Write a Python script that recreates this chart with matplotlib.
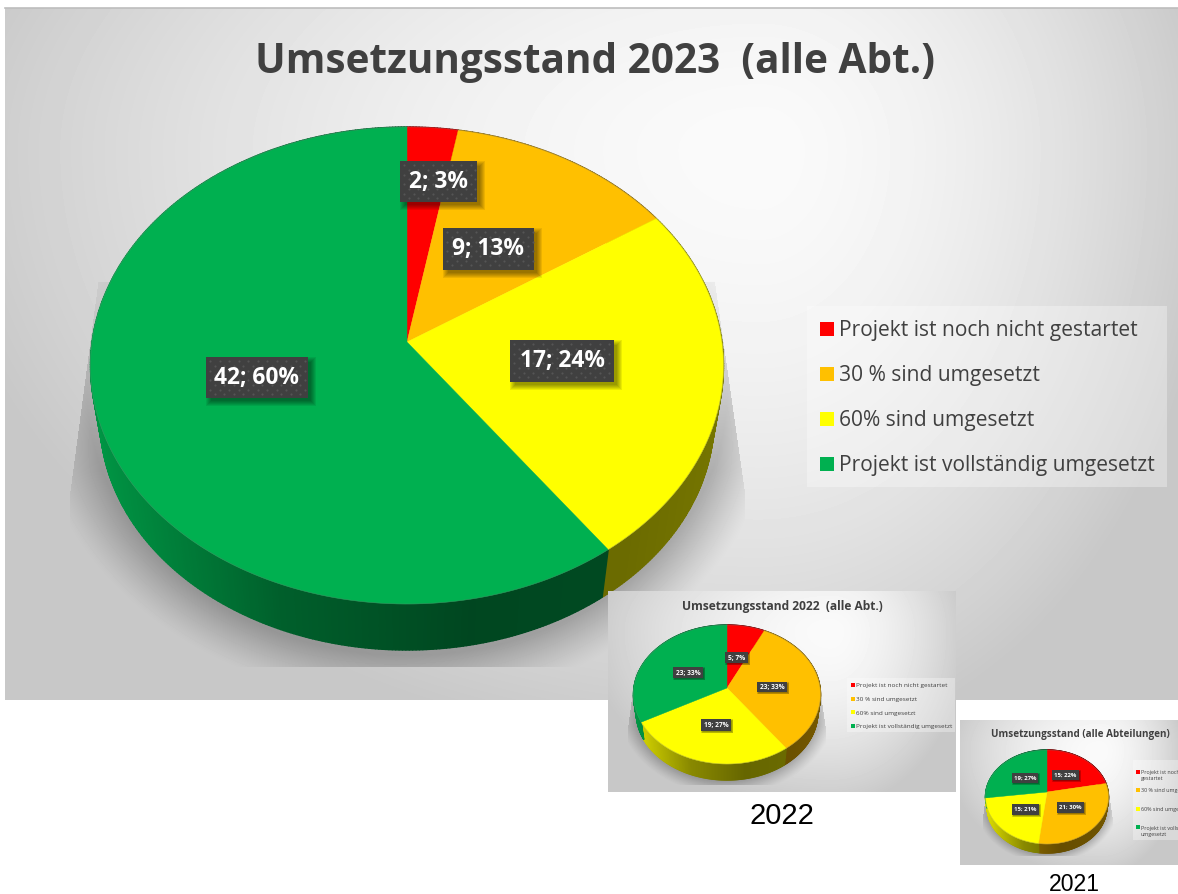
import numpy as np
import matplotlib
matplotlib.use("Agg")
import matplotlib.pyplot as plt
from matplotlib.patches import Rectangle, Polygon
from matplotlib.collections import PolyCollection

# ---------- data ----------
categories = ["Projekt ist noch nicht gestartet", "30 % sind umgesetzt",
              "60% sind umgesetzt", "Projekt ist vollständig umgesetzt"]
categories_2021 = ["Projekt ist noch nicht\ngestartet", "30 % sind umgesetzt",
                   "60% sind umgesetzt", "Projekt ist vollständig\numgesetzt"]
counts_2023 = [2, 9, 17, 42]
percent_2023 = [3, 13, 24, 60]
counts_2022 = [5, 23, 19, 23]
percent_2022 = [7, 33, 27, 33]
counts_2021 = [15, 21, 15, 19]
percent_2021 = [22, 30, 21, 27]
title_2023 = "Umsetzungsstand 2023  (alle Abt.)"
title_2022 = "Umsetzungsstand 2022  (alle Abt.)"
title_2021 = "Umsetzungsstand (alle Abteilungen)"
caption_2022 = "2022"
caption_2021 = "2021"

# ---------- style ----------
colors = ["#FF0000", "#FFC000", "#FFFF00", "#00B050"]
TXT = "#404040"
FONT = "Open Sans"

fig = plt.figure(figsize=(11.78, 8.94), dpi=100, facecolor="white")
ax = fig.add_axes([0, 0, 1, 1])
ax.set_axis_off()
W, H = 1178, 894


def fit_text(x, y, s, width, **kw):
    t = ax.text(x, y, s, **kw)
    r = fig.canvas.get_renderer()
    w = t.get_window_extent(r).width
    t.set_fontsize(t.get_fontsize() * width / w)
    return t


def panel(cfg):
    z = cfg["z"]
    x0, y0, x1, y1 = cfg["rect"]
    cx0, cy0 = cfg["glow"]
    px, py = cfg["apex"]
    top, bottom, left, right, wall = cfg["top"], cfg["bottom"], cfg["left"], cfg["right"], cfg["wall"]
    sc = (right - left) / 633.0

    # background
    yy, xx = np.mgrid[y0:y1:complex(0, max(int(y1 - y0), 2)), x0:x1:complex(0, max(int(x1 - x0), 2))]
    u = np.where(xx < cx0, (cx0 - xx) / (cx0 - x0), (xx - cx0) / (x1 - cx0))
    v = np.where(yy < cy0, (cy0 - yy) / (cy0 - y0) * 0.35, (yy - cy0) / (y1 - cy0))
    r = np.sqrt(u ** 2 + v ** 2)
    val = (250 - 43 * np.minimum(r, 1.1) ** 1.7) / 255.0

    # soft shadow below the pie
    ecy = (top + wall) / 2 + 2 * sc
    ery = (wall - top) / 2 + 4 * sc
    erx = (right - left) / 2 + 4 * sc
    d = (np.sqrt(((xx - px) / erx) ** 2 + ((yy - ecy) / ery) ** 2) - 1) * 290 * sc
    fade = np.clip((yy - (py - 40 * sc)) / (170 * sc), 0, 1)
    a = 0.25 * np.clip(1 - d / (50 * sc), 0, 1) ** 1.2 * (0.25 + 0.75 * fade)
    t = np.clip((yy - (py - 60 * sc)) / (210 * sc), 0, 1)
    a = np.where(xx < left + 8 * sc - 28 * sc * t, 0, a)
    a = np.where(xx > right - 8 * sc + 30 * sc * t, 0, a)
    a = np.where(yy > wall + 17 * sc, 0, a)
    a = np.where(yy < py - 60 * sc, 0, a)
    val = val * (1 - a)
    ax.imshow(val, cmap="gray", vmin=0, vmax=1, extent=(x0, x1, y1, y0), origin="upper",
              aspect="auto", zorder=z, interpolation="bilinear")
    if cfg.get("border"):
        ax.plot([x0, x1], [y0, y0], color="#bdbdbd", lw=1.2, zorder=z + 0.1)

    # perspective projection of the circular pie
    a_, b_ = py - top, bottom - py
    k = (b_ - a_) / (b_ + a_)
    S = a_ * (1 + k)
    R = (right - left) / 2 * np.sqrt(1 - k ** 2)
    s_low = 0.97
    dy_low = wall - py - s_low * b_

    def proj(th):
        us, vs = np.sin(th), np.cos(th)
        den = 1 + k * vs
        return px + R * us / den, py - S * vs / den

    sizes = np.asarray(cfg["sizes"], float)
    edges = np.concatenate([[0], np.cumsum(sizes)]) / sizes.sum() * 2 * np.pi

    # side wall
    polys, fcs = [], []
    for i, c in enumerate(colors):
        n = max(int((edges[i + 1] - edges[i]) / 0.01), 2)
        ths = np.linspace(edges[i], edges[i + 1], n + 1)
        X, Y = proj(ths)
        XL = px + s_low * (X - px)
        YL = py + s_low * (Y - py) + dy_low
        base = np.array(matplotlib.colors.to_rgb(c))
        for j in range(n):
            xn = ((X[j] + X[j + 1]) / 2 - left) / (right - left)
            f = np.interp(xn, [0, .1, .3, .6, .85, 1], [.85, .75, .54, .40, .42, .46])
            polys.append([(X[j], Y[j]), (X[j + 1], Y[j + 1]), (XL[j + 1], YL[j + 1]), (XL[j], YL[j])])
            fcs.append(base * f)
    ax.add_collection(PolyCollection(polys, facecolors=fcs, edgecolors=fcs, linewidths=1.0, zorder=z + 1))

    # top face
    for i, c in enumerate(colors):
        n = max(int((edges[i + 1] - edges[i]) / 0.01), 2)
        X, Y = proj(np.linspace(edges[i], edges[i + 1], n + 1))
        ax.add_patch(Polygon(np.column_stack([np.r_[px, X], np.r_[py, Y]]), closed=True,
                             facecolor=c, edgecolor=c, lw=0.3, zorder=z + 2))
    X, Y = proj(np.linspace(0, 2 * np.pi, 500))
    ax.plot(X, Y, color="#808080", lw=0.5, alpha=0.35, zorder=z + 2.1)

    # data labels
    for cnt, pct, (bx0, by0, bx1, by1) in zip(cfg["counts"], cfg["percent"], cfg["boxes"]):
        off = 4 * cfg["lscale"]
        for g in (5, 4, 3, 2, 1, 0):
            e = (g - 1) * 1.0 * cfg["lscale"]
            ax.add_patch(Rectangle((bx0 + off - e, by0 + off - e), bx1 - bx0 + 2 * e, by1 - by0 + 2 * e,
                                   facecolor="black", edgecolor="none", alpha=0.08, zorder=z + 3))
        ax.add_patch(Rectangle((bx0, by0), bx1 - bx0, by1 - by0, facecolor="#404040",
                               edgecolor="none", zorder=z + 3.1))
        if cfg["lscale"] > 0.5:
            for o in (4, 8.7):
                gx, gy = np.meshgrid(np.arange(bx0 + o, bx1 - 1, 9.5), np.arange(by0 + o, by1 - 1, 9.5))
                ax.plot(gx.ravel(), gy.ravel(), ls="none", marker="o", ms=1.6, mfc="#555555",
                        mec="none", zorder=z + 3.2)
        ax.text((bx0 + bx1) / 2, (by0 + by1) / 2 + cfg["lshift"], f"{cnt}; {pct}%", color="white", family=FONT,
                weight="bold", fontsize=cfg["lfont"], ha="center", va="center", zorder=z + 3.3)

    # title
    tx, ty, tw = cfg["title_pos"]
    fit_text(tx, ty, cfg["title"], tw, family=FONT, weight="bold", color=TXT, fontsize=20,
             ha="center", va="baseline", zorder=z + 4)

    # legend
    lx0, ly0, lx1, ly1 = cfg["legend_rect"]
    ax.add_patch(Rectangle((lx0, ly0), lx1 - lx0, ly1 - ly0, facecolor="white", alpha=0.32,
                           edgecolor="none", zorder=z + 4))
    for c, lab, sy, by in zip(colors, cfg["labels"], cfg["legend_sq"], cfg["legend_base"]):
        ax.add_patch(Rectangle((cfg["legend_x"], sy), cfg["sq"], cfg["sq"], facecolor=c, edgecolor="none", zorder=z + 5))
        ax.text(cfg["legend_tx"], by, lab, color=TXT, family=FONT, fontsize=cfg["legend_font"],
                ha="left", va="baseline", zorder=z + 5, linespacing=1.3, clip_on=True)


panel(dict(z=10, rect=(5, 8, 1178, 700), glow=(760, 150), border=True,
           apex=(407, 342), top=127, bottom=604, left=90, right=723, wall=650,
           sizes=counts_2023, counts=counts_2023, percent=percent_2023,
           boxes=[(400, 161, 477, 202), (443, 228, 534, 270), (510, 340, 614, 382), (206, 357, 308, 398)],
           lscale=1.0, lfont=16.4, lshift=0.5,
           title=title_2023, title_pos=(595, 73, 681),
           legend_rect=(807, 306, 1167, 487), labels=categories, legend_x=820, sq=14,
           legend_sq=[322, 367, 412, 457], legend_base=[336, 381, 426, 471],
           legend_tx=839, legend_font=15.1))

panel(dict(z=30, rect=(608, 591, 956, 792), glow=(831, 631),
           apex=(727, 688), top=625, bottom=764, left=633, right=820, wall=780,
           sizes=counts_2022, counts=counts_2022, percent=percent_2022,
           boxes=[(725, 652, 748, 663), (757, 682, 787, 692), (701, 719, 731, 731), (673, 667, 703, 678)],
           lscale=0.3, lfont=4.8, lshift=0,
           title=title_2022, title_pos=(782, 610, 201),
           legend_rect=(847, 678, 955, 732), labels=categories, legend_x=851, sq=4,
           legend_sq=[683, 696.5, 710, 723.5], legend_base=[687.5, 701, 714.5, 728],
           legend_tx=856, legend_font=4.55))

panel(dict(z=50, rect=(960, 720, 1178, 865), glow=(1100, 750),
           apex=(1047, 792), top=750, bottom=844, left=986, right=1109, wall=853,
           sizes=percent_2021, counts=counts_2021, percent=percent_2021,
           boxes=[(1052, 770, 1079, 780), (1057, 802, 1084, 813), (1012, 804, 1039, 815), (1012, 773, 1038, 783)],
           lscale=0.25, lfont=4.3, lshift=0,
           title=title_2021, title_pos=(1080, 737, 178),
           legend_rect=(1133, 760, 1178, 840), labels=categories_2021, legend_x=1136, sq=4,
           legend_sq=[769.5, 788, 807, 824.5], legend_base=[780, 792, 811, 836],
           legend_tx=1141, legend_font=3.9))

ax.text(782, 824, caption_2022, family="Liberation Sans", fontsize=21, color="black", ha="center", va="baseline", zorder=70)
ax.text(1074, 891, caption_2021, family="Liberation Sans", fontsize=16.6, color="black", ha="center", va="baseline", zorder=70)

ax.set_xlim(0, W)
ax.set_ylim(H, 0)
fig.savefig("out.png", dpi=100, facecolor="white")
